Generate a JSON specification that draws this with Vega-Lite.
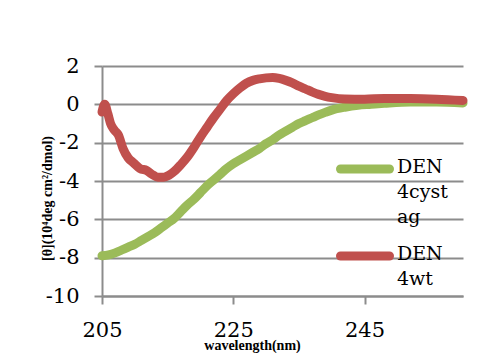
{
  "$schema": "https://vega.github.io/schema/vega-lite/v6.json",
  "width": 361,
  "height": 230,
  "autosize": "none",
  "padding": {"left": 102, "top": 66, "right": 37, "bottom": 57},
  "background": "white",
  "config": {
    "view": {"stroke": null},
    "font": "DejaVu Serif"
  },
  "data": {
    "values": [
      {"series": "DEN 4cyst ag", "wl": 205, "theta": -7.9},
      {"series": "DEN 4cyst ag", "wl": 206, "theta": -7.85},
      {"series": "DEN 4cyst ag", "wl": 207, "theta": -7.75},
      {"series": "DEN 4cyst ag", "wl": 208, "theta": -7.6},
      {"series": "DEN 4cyst ag", "wl": 209, "theta": -7.45},
      {"series": "DEN 4cyst ag", "wl": 210, "theta": -7.3},
      {"series": "DEN 4cyst ag", "wl": 211, "theta": -7.1},
      {"series": "DEN 4cyst ag", "wl": 212, "theta": -6.9},
      {"series": "DEN 4cyst ag", "wl": 213, "theta": -6.7},
      {"series": "DEN 4cyst ag", "wl": 214, "theta": -6.45},
      {"series": "DEN 4cyst ag", "wl": 215, "theta": -6.2},
      {"series": "DEN 4cyst ag", "wl": 216, "theta": -5.95},
      {"series": "DEN 4cyst ag", "wl": 217, "theta": -5.6},
      {"series": "DEN 4cyst ag", "wl": 218, "theta": -5.25},
      {"series": "DEN 4cyst ag", "wl": 219, "theta": -4.95},
      {"series": "DEN 4cyst ag", "wl": 220, "theta": -4.6},
      {"series": "DEN 4cyst ag", "wl": 221, "theta": -4.25},
      {"series": "DEN 4cyst ag", "wl": 222, "theta": -3.95},
      {"series": "DEN 4cyst ag", "wl": 223, "theta": -3.65},
      {"series": "DEN 4cyst ag", "wl": 224, "theta": -3.35},
      {"series": "DEN 4cyst ag", "wl": 225, "theta": -3.1},
      {"series": "DEN 4cyst ag", "wl": 226, "theta": -2.9},
      {"series": "DEN 4cyst ag", "wl": 227, "theta": -2.7},
      {"series": "DEN 4cyst ag", "wl": 228, "theta": -2.5},
      {"series": "DEN 4cyst ag", "wl": 229, "theta": -2.3},
      {"series": "DEN 4cyst ag", "wl": 230, "theta": -2.05},
      {"series": "DEN 4cyst ag", "wl": 231, "theta": -1.85},
      {"series": "DEN 4cyst ag", "wl": 232, "theta": -1.6},
      {"series": "DEN 4cyst ag", "wl": 233, "theta": -1.4},
      {"series": "DEN 4cyst ag", "wl": 234, "theta": -1.2},
      {"series": "DEN 4cyst ag", "wl": 235, "theta": -1.0},
      {"series": "DEN 4cyst ag", "wl": 236, "theta": -0.85},
      {"series": "DEN 4cyst ag", "wl": 237, "theta": -0.7},
      {"series": "DEN 4cyst ag", "wl": 238, "theta": -0.55},
      {"series": "DEN 4cyst ag", "wl": 239, "theta": -0.42},
      {"series": "DEN 4cyst ag", "wl": 240, "theta": -0.3},
      {"series": "DEN 4cyst ag", "wl": 242, "theta": -0.15},
      {"series": "DEN 4cyst ag", "wl": 244, "theta": -0.05},
      {"series": "DEN 4cyst ag", "wl": 246, "theta": 0.0},
      {"series": "DEN 4cyst ag", "wl": 248, "theta": 0.05},
      {"series": "DEN 4cyst ag", "wl": 252, "theta": 0.12},
      {"series": "DEN 4cyst ag", "wl": 256, "theta": 0.12},
      {"series": "DEN 4cyst ag", "wl": 260, "theta": 0.07},
      {"series": "DEN 4wt", "wl": 205, "theta": -0.4},
      {"series": "DEN 4wt", "wl": 205.4, "theta": 0.0},
      {"series": "DEN 4wt", "wl": 205.9, "theta": -0.5},
      {"series": "DEN 4wt", "wl": 206.3, "theta": -1.0},
      {"series": "DEN 4wt", "wl": 206.9, "theta": -1.35},
      {"series": "DEN 4wt", "wl": 207.5, "theta": -1.6},
      {"series": "DEN 4wt", "wl": 208.2, "theta": -2.3},
      {"series": "DEN 4wt", "wl": 209, "theta": -2.8},
      {"series": "DEN 4wt", "wl": 209.8, "theta": -3.05},
      {"series": "DEN 4wt", "wl": 210.8, "theta": -3.35},
      {"series": "DEN 4wt", "wl": 211.8, "theta": -3.45},
      {"series": "DEN 4wt", "wl": 212.6, "theta": -3.65},
      {"series": "DEN 4wt", "wl": 213.5, "theta": -3.8},
      {"series": "DEN 4wt", "wl": 214.4, "theta": -3.8},
      {"series": "DEN 4wt", "wl": 215.2, "theta": -3.7},
      {"series": "DEN 4wt", "wl": 216, "theta": -3.5},
      {"series": "DEN 4wt", "wl": 217, "theta": -3.15},
      {"series": "DEN 4wt", "wl": 218, "theta": -2.75},
      {"series": "DEN 4wt", "wl": 219, "theta": -2.25},
      {"series": "DEN 4wt", "wl": 220, "theta": -1.7},
      {"series": "DEN 4wt", "wl": 221, "theta": -1.2},
      {"series": "DEN 4wt", "wl": 222, "theta": -0.7},
      {"series": "DEN 4wt", "wl": 223, "theta": -0.25},
      {"series": "DEN 4wt", "wl": 224, "theta": 0.2},
      {"series": "DEN 4wt", "wl": 225, "theta": 0.55},
      {"series": "DEN 4wt", "wl": 226, "theta": 0.85},
      {"series": "DEN 4wt", "wl": 227, "theta": 1.1},
      {"series": "DEN 4wt", "wl": 228, "theta": 1.25},
      {"series": "DEN 4wt", "wl": 229, "theta": 1.33},
      {"series": "DEN 4wt", "wl": 230, "theta": 1.38},
      {"series": "DEN 4wt", "wl": 231, "theta": 1.4},
      {"series": "DEN 4wt", "wl": 232, "theta": 1.35},
      {"series": "DEN 4wt", "wl": 233, "theta": 1.25},
      {"series": "DEN 4wt", "wl": 234, "theta": 1.12},
      {"series": "DEN 4wt", "wl": 235, "theta": 0.95},
      {"series": "DEN 4wt", "wl": 236, "theta": 0.8},
      {"series": "DEN 4wt", "wl": 237, "theta": 0.65},
      {"series": "DEN 4wt", "wl": 238, "theta": 0.52},
      {"series": "DEN 4wt", "wl": 239, "theta": 0.42},
      {"series": "DEN 4wt", "wl": 240, "theta": 0.35},
      {"series": "DEN 4wt", "wl": 242, "theta": 0.28},
      {"series": "DEN 4wt", "wl": 245, "theta": 0.27},
      {"series": "DEN 4wt", "wl": 248, "theta": 0.3},
      {"series": "DEN 4wt", "wl": 252, "theta": 0.3},
      {"series": "DEN 4wt", "wl": 256, "theta": 0.27},
      {"series": "DEN 4wt", "wl": 260, "theta": 0.2}
    ]
  },
  "mark": {"type": "line", "strokeWidth": 9, "strokeCap": "round", "strokeJoin": "round", "interpolate": "monotone", "clip": false},
  "encoding": {
    "x": {
      "field": "wl",
      "type": "quantitative",
      "scale": {"domain": [205, 260], "nice": false, "zero": false},
      "axis": {
        "values": [205, 225, 245],
        "title": "wavelength(nm)",
        "titleFont": "Liberation Serif",
        "titleFontSize": 14,
        "titleFontWeight": "bold",
        "titleColor": "black",
        "titleX": 150,
        "titleY": 53,
        "titleBaseline": "alphabetic",
        "titleAlign": "center",
        "labelFont": "DejaVu Serif",
        "labelFontSize": 21,
        "labelColor": "black",
        "labelPadding": 15,
        "labelFlush": false,
        "grid": false,
        "domainColor": "#8c8c8c",
        "domainWidth": 2,
        "tickColor": "#8c8c8c",
        "tickWidth": 2,
        "tickSize": 8
      }
    },
    "y": {
      "field": "theta",
      "type": "quantitative",
      "scale": {"domain": [-10, 2], "nice": false, "zero": false},
      "axis": {
        "values": [-10, -8, -6, -4, -2, 0, 2],
        "labelExpr": "'' + datum.value",
        "title": "[θ](10⁴deg cm²/dmol)",
        "titleFont": "Liberation Serif",
        "titleFontSize": 14,
        "titleFontWeight": "bold",
        "titleColor": "black",
        "titleX": -55,
        "titleY": 132,
        "titleAngle": 270,
        "titleBaseline": "middle",
        "titleAlign": "center",
        "labelFont": "DejaVu Serif",
        "labelFontSize": 21,
        "labelColor": "black",
        "labelPadding": 15,
        "labelFlush": false,
        "grid": true,
        "gridColor": "#8c8c8c",
        "gridWidth": 2,
        "domainColor": "#8c8c8c",
        "domainWidth": 2,
        "tickColor": "#8c8c8c",
        "tickWidth": 2,
        "tickSize": 8
      }
    },
    "color": {
      "field": "series",
      "type": "nominal",
      "scale": {"domain": ["DEN 4cyst ag", "DEN 4wt"], "range": ["#9BBB59", "#C0504D"]},
      "legend": {
        "title": null,
        "orient": "none",
        "legendX": 234,
        "legendY": 74,
        "symbolType": "stroke",
        "symbolSize": 2400,
        "symbolStrokeWidth": 9,
        "labelFont": "DejaVu Serif",
        "labelFontSize": 19,
        "labelColor": "black",
        "labelOffset": 3,
        "labelBaseline": "top",
        "labelLimit": 0,
        "rowPadding": -8,
        "labelExpr": "datum.label == 'DEN 4cyst ag' ? ['DEN', '4cyst', 'ag'] : ['DEN', '4wt']",
        "encode": {
          "symbols": {"update": {"strokeCap": {"value": "round"}}},
          "labels": {"update": {"lineHeight": {"value": 25}, "dy": {"value": -11}}}
        }
      }
    }
  }
}
